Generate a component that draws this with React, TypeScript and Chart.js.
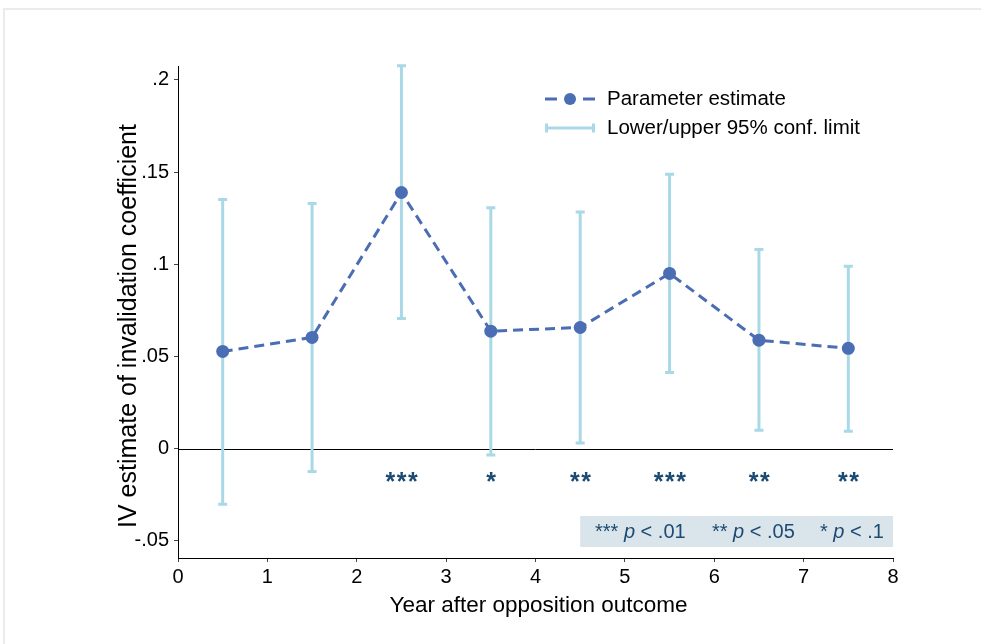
import React, { useEffect, useRef } from "react";
import { Chart, registerables } from "chart.js";

Chart.register(...registerables);

// Years after the opposition outcome (bin midpoints)
const years = [0.5, 1.5, 2.5, 3.5, 4.5, 5.5, 6.5, 7.5];
// IV parameter estimates
const estimates = [0.0527, 0.0603, 0.1389, 0.0637, 0.0657, 0.095, 0.0588, 0.0544];
// 95% confidence limits
const lower = [-0.0301, -0.0124, 0.0706, -0.0034, 0.0031, 0.0413, 0.01, 0.0095];
const upper = [0.1351, 0.1329, 0.2077, 0.1307, 0.1283, 0.1488, 0.108, 0.0989];
// Significance markers per year
const stars = ["", "", "***", "*", "**", "***", "**", "**"];

const xTicks = [0, 1, 2, 3, 4, 5, 6, 7, 8];
const yTicks = [-0.05, 0, 0.05, 0.1, 0.15, 0.2];
const legendLabels = ["Parameter estimate", "Lower/upper 95% conf. limit"];
const noteStars = ["***", "**", "*"];
const noteLevels = ["< .01", "< .05", "< .1"];
const xTitle = "Year after opposition outcome";
const yTitle = "IV estimate of invalidation coefficient";

const FONT = "'Liberation Sans', Arial, Helvetica, sans-serif";
const LINE_COLOR = "#4a6db3";
const CI_COLOR = "#a9d8e6";
const NAVY = "#1c4a72";

const W = 981;
const H = 644;

function fmtTick(v: number): string {
  if (Math.abs(v) < 1e-9) return "0";
  const s = String(Math.round(v * 1000) / 1000);
  return s.replace(/^(-?)0\./, "$1.");
}

function drawCI(ctx: CanvasRenderingContext2D, x: number, y1: number, y2: number, cap: number) {
  ctx.beginPath();
  ctx.moveTo(x, y1);
  ctx.lineTo(x, y2);
  ctx.moveTo(x - cap / 2, y1);
  ctx.lineTo(x + cap / 2, y1);
  ctx.moveTo(x - cap / 2, y2);
  ctx.lineTo(x + cap / 2, y2);
  ctx.stroke();
}

const decorations = {
  id: "decorations",
  beforeDatasetsDraw(chart: any) {
    const { ctx, chartArea, scales } = chart;
    const xs = scales.x;
    const ys = scales.y;
    ctx.save();
    // zero reference line
    const y0 = Math.round(ys.getPixelForValue(0)) + 0.5;
    ctx.strokeStyle = "#000";
    ctx.lineWidth = 1;
    ctx.beginPath();
    ctx.moveTo(chartArea.left, y0);
    ctx.lineTo(chartArea.right, y0);
    ctx.stroke();
    // confidence intervals
    ctx.strokeStyle = CI_COLOR;
    ctx.lineWidth = 3;
    ctx.lineCap = "butt";
    years.forEach((yr, i) => {
      const px = xs.getPixelForValue(yr);
      drawCI(ctx, px, ys.getPixelForValue(upper[i]), ys.getPixelForValue(lower[i]), 9);
    });
    ctx.restore();
  },
  afterDraw(chart: any) {
    const { ctx, chartArea, scales } = chart;
    const xs = scales.x;
    const ys = scales.y;
    ctx.save();

    // outer frame
    ctx.fillStyle = "#ebebeb";
    ctx.fillRect(3, 8, W - 3, 2);
    ctx.fillRect(3, 8, 2, H - 8);

    // significance stars
    ctx.fillStyle = NAVY;
    ctx.font = `bold 25px ${FONT}`;
    ctx.textAlign = "center";
    ctx.textBaseline = "alphabetic";
    (ctx as any).letterSpacing = "1.5px";
    const starY = ys.getPixelForValue(-0.015);
    years.forEach((yr, i) => {
      if (!stars[i]) return;
      ctx.fillText(stars[i], xs.getPixelForValue(yr) + 1, starY + 14);
    });
    (ctx as any).letterSpacing = "0px";

    // note box
    const boxL = xs.getPixelForValue(4.5);
    const boxR = chartArea.right;
    ctx.fillStyle = "#d9e5eb";
    ctx.fillRect(boxL, 516, boxR - boxL, 31);
    ctx.fillStyle = NAVY;
    ctx.textAlign = "left";
    ctx.textBaseline = "middle";
    const groupX = [595, 712, 820];
    noteStars.forEach((s, i) => {
      let x = groupX[i];
      ctx.font = `20px ${FONT}`;
      ctx.fillText(s + " ", x, 532);
      x += ctx.measureText(s + " ").width;
      ctx.font = `italic 20px ${FONT}`;
      ctx.fillText("p", x, 532);
      x += ctx.measureText("p").width;
      ctx.font = `20px ${FONT}`;
      ctx.fillText(" " + noteLevels[i], x, 532);
    });

    // legend
    const lx0 = 545;
    const lx1 = 595;
    const ly1 = 99;
    const ly2 = 128;
    ctx.strokeStyle = LINE_COLOR;
    ctx.lineWidth = 3;
    ctx.beginPath();
    ctx.moveTo(lx0, ly1);
    ctx.lineTo(lx0 + 12, ly1);
    ctx.moveTo(lx1 - 12, ly1);
    ctx.lineTo(lx1, ly1);
    ctx.stroke();
    ctx.fillStyle = LINE_COLOR;
    ctx.beginPath();
    ctx.arc((lx0 + lx1) / 2, ly1, 6, 0, Math.PI * 2);
    ctx.fill();
    ctx.strokeStyle = CI_COLOR;
    ctx.lineWidth = 3;
    ctx.beginPath();
    ctx.moveTo(lx0, ly2);
    ctx.lineTo(lx1, ly2);
    ctx.moveTo(lx0 + 1.5, ly2 - 4.5);
    ctx.lineTo(lx0 + 1.5, ly2 + 4.5);
    ctx.moveTo(lx1 - 1.5, ly2 - 4.5);
    ctx.lineTo(lx1 - 1.5, ly2 + 4.5);
    ctx.stroke();
    ctx.fillStyle = "#000";
    ctx.font = `20.5px ${FONT}`;
    ctx.textAlign = "left";
    ctx.textBaseline = "middle";
    ctx.fillText(legendLabels[0], 607, ly1);
    ctx.fillText(legendLabels[1], 607, ly2);

    // axis titles
    ctx.font = `22.5px ${FONT}`;
    ctx.textAlign = "center";
    ctx.textBaseline = "middle";
    ctx.fillText(xTitle, (chartArea.left + chartArea.right) / 2 + 3, 606);
    ctx.font = `25px ${FONT}`;
    ctx.translate(129, 326);
    ctx.rotate(-Math.PI / 2);
    ctx.fillText(yTitle, 0, 0);

    ctx.restore();
  },
};

export default function App() {
  const canvasRef = useRef<HTMLCanvasElement | null>(null);

  useEffect(() => {
    const canvas = canvasRef.current;
    if (!canvas) return;
    const chart = new Chart(canvas, {
      type: "line",
      data: {
        datasets: [
          {
            label: legendLabels[0],
            data: years.map((x, i) => ({ x, y: estimates[i] })),
            borderColor: LINE_COLOR,
            backgroundColor: LINE_COLOR,
            borderWidth: 3,
            borderDash: [10, 6],
            pointRadius: 6.5,
            pointBorderWidth: 0,
            pointBackgroundColor: LINE_COLOR,
            tension: 0,
            fill: false,
          },
        ],
      },
      options: {
        responsive: false,
        animation: false,
        devicePixelRatio: 1,
        layout: { padding: { left: 0, right: W - 893, top: 66, bottom: 0 } },
        plugins: { legend: { display: false }, tooltip: { enabled: false } },
        scales: {
          x: {
            type: "linear",
            min: 0,
            max: 8,
            afterBuildTicks: (s: any) => {
              s.ticks = xTicks.map((v) => ({ value: v }));
            },
            afterFit: (s: any) => {
              s.height = H - 558;
            },
            grid: { drawOnChartArea: false, drawTicks: true, tickLength: 4, tickColor: "#444" },
            border: { color: "#000", width: 1 },
            ticks: {
              color: "#000",
              font: { family: FONT, size: 20 },
              padding: 3,
              maxRotation: 0,
              autoSkip: false,
              callback: (v: any) => String(v),
            },
          },
          y: {
            type: "linear",
            min: -0.0593,
            max: 0.2075,
            afterBuildTicks: (s: any) => {
              s.ticks = yTicks.map((v) => ({ value: v }));
            },
            afterFit: (s: any) => {
              s.width = 178;
            },
            grid: { drawOnChartArea: false, drawTicks: true, tickLength: 4, tickColor: "#444" },
            border: { color: "#000", width: 1 },
            ticks: {
              color: "#000",
              font: { family: FONT, size: 20 },
              padding: 5,
              autoSkip: false,
              callback: (v: any) => fmtTick(Number(v)),
            },
          },
        },
      },
      plugins: [decorations],
    });
    return () => chart.destroy();
  }, []);

  return (
    <div style={{ position: "fixed", left: 0, top: 0, width: W, height: H, background: "#fff" }}>
      <canvas ref={canvasRef} width={W} height={H} style={{ display: "block", width: W, height: H }} />
    </div>
  );
}
